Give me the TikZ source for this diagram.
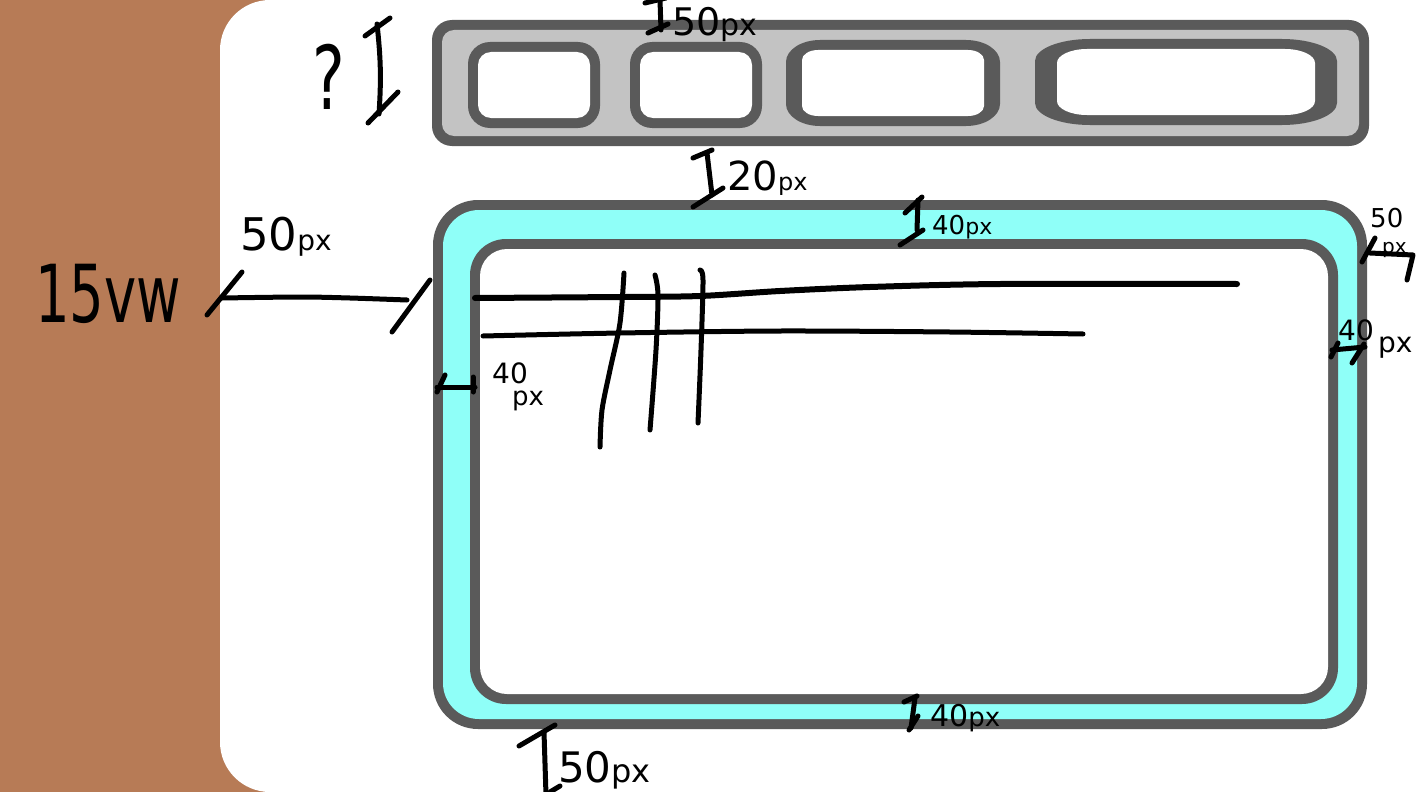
\documentclass[tikz,border=0pt]{standalone}
\usepackage{fontspec}
\setmainfont{DejaVu Sans}
\definecolor{wallbrown}{HTML}{B77B56}
\definecolor{framegray}{HTML}{5A5A5A}
\definecolor{bargray}{HTML}{C3C3C3}
\definecolor{padcyan}{HTML}{8FFFF8}
\newcommand\hsz[1]{\fontsize{#1}{#1}\selectfont}
% box with elliptic corners: x1 y1 x2 y2 rx ry
\newcommand\ebox[6]{(#1+#5,#2) -- (#3-#5,#2)
  arc[start angle=90, end angle=0, x radius=#5pt, y radius=#6pt] -- (#3,#4-#6)
  arc[start angle=0, end angle=-90, x radius=#5pt, y radius=#6pt] -- (#1+#5,#4)
  arc[start angle=-90, end angle=-180, x radius=#5pt, y radius=#6pt] -- (#1,#2+#6)
  arc[start angle=180, end angle=90, x radius=#5pt, y radius=#6pt] -- cycle}
\tikzset{
  pen/.style={line width=5pt, line cap=round, line join=round},
  hand/.style={inner sep=0pt, anchor=base west},
}

\begin{document}
\begin{tikzpicture}[x=1pt, y=-1pt]
\useasboundingbox (0,0) rectangle (1416,792);
\clip (0,0) rectangle (1416,792);

% page and side wall
\fill[wallbrown] (0,0) rectangle (1416,792);
\fill[white, rounded corners=50pt] (220,0) rectangle (1500,792);

% nav bar with its buttons
\fill[framegray, rounded corners=20pt] (432,20) rectangle (1369,146);
\fill[bargray, rounded corners=12pt] (442,30) rectangle (1359,136);
\foreach \xa/\xb in {468/600, 630/762} {
  \fill[framegray, rounded corners=22pt] (\xa,42) rectangle (\xb,128);
  \fill[white, rounded corners=13pt] (\xa+10,52) rectangle (\xb-10,118);
}
\fill[framegray] \ebox{786}{40}{1000}{126}{34}{22};
\fill[white] \ebox{802}{50}{984}{116}{16}{10};
\fill[framegray] \ebox{1035}{39}{1337}{125}{55}{22};
\fill[white] \ebox{1057}{49}{1315}{115}{30}{14};

% content box
\fill[framegray, rounded corners=45pt] (433,200) rectangle (1367,729);
\fill[padcyan, rounded corners=36pt] (443,210) rectangle (1357,719);
\fill[framegray, rounded corners=36pt] (470,239) rectangle (1338,704);
\fill[white, rounded corners=27pt] (480,249) rectangle (1328,694);

% grid sketch
\draw[pen, line width=6pt] plot[smooth] coordinates {(475,298) (620,297) (700,296) (780,291) (870,287) (1000,284) (1237,284)};
\draw[pen] plot[smooth] coordinates {(483,336) (620,333) (780,331) (950,332) (1083,334)};
\draw[pen] plot[smooth] coordinates {(624,273) (620,323) (610,370) (602,410) (600,447)};
\draw[pen] plot[smooth] coordinates {(655,275) (658,295) (656,350) (650,430)};
\draw[pen] plot[smooth] coordinates {(700,270) (703,280) (701,350) (698,423)};

% measures
\draw[pen] (365,36) -- (390,18);
\draw[pen] (377,24) to[bend left=5] (379,114);
\draw[pen] (368,123) -- (398,92);

\draw[pen] (645,3) -- (666,-2);
\draw[pen] (660,0) -- (661,30);
\draw[pen] (648,33) -- (668,24);

\draw[pen] (693,158) -- (712,150);
\draw[pen] (707,153) -- (712,195);
\draw[pen] (693,207) -- (723,188);

\draw[pen] (905,213) -- (922,197);
\draw[pen] (918,200) -- (917,230);
\draw[pen] (900,245) -- (923,230);

\draw[pen] (904,702) -- (917,696);
\draw[pen] (915,698) -- (911,728);
\draw[pen] (909,730) -- (918,716);

\draw[pen] (519,746) -- (555,725);
\draw[pen] (544,732) -- (546,795);
\draw[pen] (550,792) -- (560,786);

\draw[pen] (207,315) -- (242,272);
\draw[pen] plot[smooth] coordinates {(222,298) (300,297) (350,298) (407,300)};
\draw[pen] (392,332) -- (430,280);

\draw[pen] (1362,262) -- (1375,238);
\draw[pen] (1370,253) -- (1413,255) -- (1407,280);

\draw[pen] (1332,350) -- (1365,347);
\draw[pen] (1331,357) -- (1338,343);
\draw[pen] (1352,363) -- (1364,344);

\draw[pen] (437,387) -- (475,387);
\draw[pen] (437,392) -- (445,375);
\draw[pen] (473,377) -- (473,392);

% labels
\node[hand, xscale=0.7] (qmark) at (312,110) {\hsz{88}?};
\node[hand, xscale=0.68] (wallwidth) at (35,322) {\hsz{80}15vw};
\node[hand] (wallgap) at (240,250) {\hsz{45}50\hsz{28}px};
\node[hand] (bartop) at (672,36) {\hsz{38}50\hsz{30}px};
\node[hand] (bargap) at (727,190) {\hsz{40}20\hsz{24}px};
\node[hand] (padtop) at (932,234) {\hsz{26}40\hsz{22}px};
\node[hand] (padbottom) at (930,726) {\hsz{30}40\hsz{26}px};
\node[hand] (boxbottom) at (558,782) {\hsz{42}50\hsz{32}px};
\node[hand] (rightgap) at (1370,227) {\hsz{26}50};
\node[hand] (rightgappx) at (1382,253) {\hsz{20}px};
\node[hand] (padright) at (1338,340) {\hsz{28}40};
\node[hand] (padrightpx) at (1378,352) {\hsz{28}px};
\node[hand] (padleft) at (492,383) {\hsz{28}40};
\node[hand] (padleftpx) at (512,405) {\hsz{26}px};
\end{tikzpicture}
\end{document}
